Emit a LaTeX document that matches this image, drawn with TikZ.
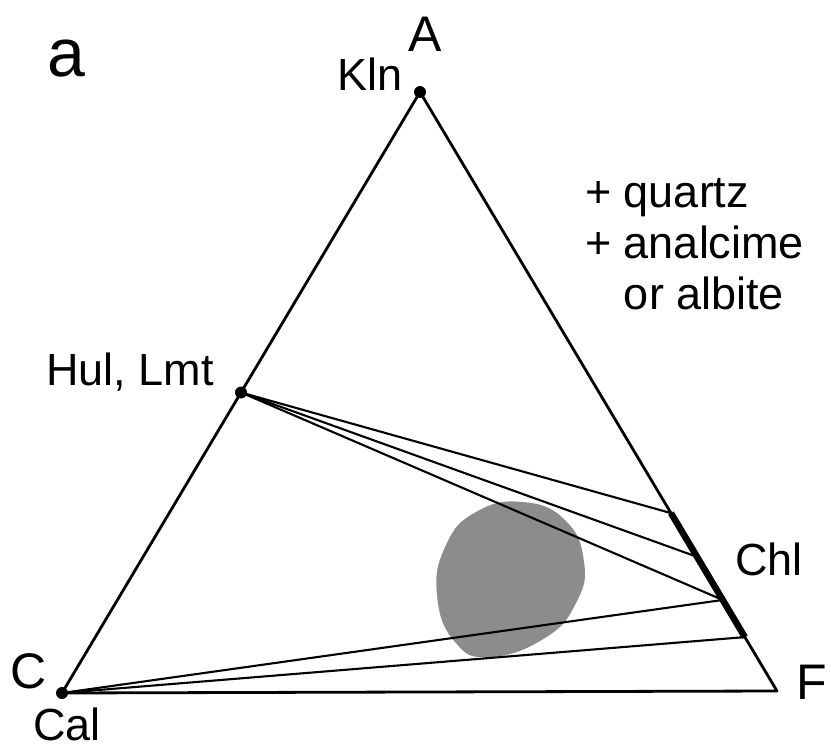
\documentclass[tikz,border=0pt]{standalone}
\usepackage{fontspec}
\setmainfont{Liberation Sans}
\usetikzlibrary{calc}
\definecolor{fieldGrey}{HTML}{8C8C8C}

\begin{document}
\begin{tikzpicture}[x=1pt, y=-1pt,
  side/.style={line width=2.8pt, line join=round},
  tie/.style={line width=2.1pt},
  chlbar/.style={line width=6.5pt},
  dot/.style={circle, fill=black, inner sep=0pt, minimum size=12pt},
  lab/.style={font=\fontsize{45}{51}\selectfont, inner sep=0pt},
  corner/.style={font=\fontsize{50}{56}\selectfont, inner sep=0pt}]
  \useasboundingbox (0,0) rectangle (831,749);
  % composition field
  \fill[fieldGrey] plot[smooth cycle, tension=0.8] coordinates {
    (522,502) (565,520) (584,562) (576,603) (545,638) (490,657)
    (455,642) (437,595) (446,545) (476,512)};
  % corners of A-C-F
  \node[dot] (kln) at (420,92) {};
  \node[dot] (cal) at (62,693) {};
  \coordinate (f) at (777,691);
  \node[dot] (hul) at ($(kln.center)!0.5!(cal.center)$) {};
  % chlorite range on A-F
  \coordinate (ch1) at ($(kln.center)!0.703!(f)$);
  \coordinate (ch2) at ($(kln.center)!0.776!(f)$);
  \coordinate (ch3) at ($(kln.center)!0.848!(f)$);
  \coordinate (ch4) at ($(kln.center)!0.910!(f)$);
  % triangle
  \draw[side] (kln.center) -- (cal.center) -- (f) -- cycle;
  % tie lines
  \foreach \p in {ch1, ch2, ch3}
    \draw[tie] (hul.center) -- (\p);
  \foreach \p in {ch3, ch4}
    \draw[tie] (cal.center) -- (\p);
  \draw[chlbar] (ch1) -- (ch4);
  % labels
  \node[inner sep=0pt, font=\fontsize{68}{72}\selectfont, anchor=base west] (pa) at (47,77) {a};
  \node[corner, anchor=base] (la) at (425,52) {A};
  \node[corner, anchor=base] (lc) at (29,688) {C};
  \node[corner, anchor=base west] (lf) at (796,699) {F};
  \node[lab, anchor=base east] (lkln) at (403,91) {Kln};
  \node[lab, anchor=base east] (lhul) at (214,385) {Hul, Lmt};
  \node[lab, anchor=base west] (lchl) at (735,575) {Chl};
  \node[lab, anchor=base west] (lcal) at (33,740) {Cal};
  \node[lab, anchor=base west, align=left] (extra) at (585,309)
    {+ quartz\\+ analcime\\\phantom{+ }or albite};
\end{tikzpicture}
\end{document}
